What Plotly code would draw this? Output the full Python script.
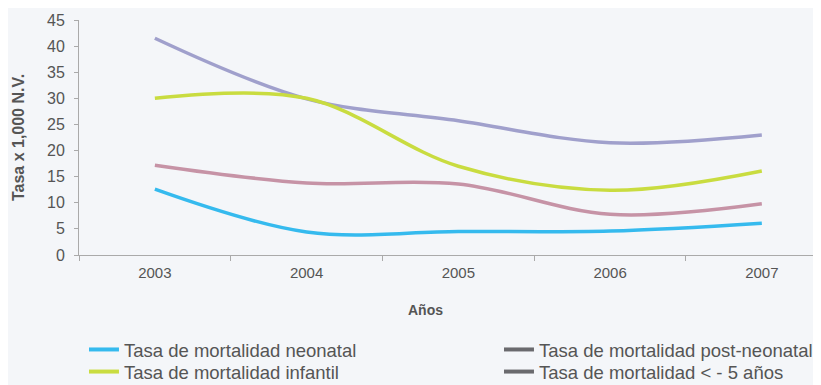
import plotly.graph_objects as go

years = ["2003", "2004", "2005", "2006", "2007"]
neonatal = [12.6, 4.4, 4.5, 4.6, 6.1]
post_neonatal = [17.2, 13.8, 13.6, 7.8, 9.8]
infantil = [30.0, 30.0, 17.0, 12.4, 16.1]
menor5 = [41.5, 29.9, 25.7, 21.5, 23.0]

names = ["Tasa de mortalidad neonatal", "Tasa de mortalidad post-neonatal",
         "Tasa de mortalidad infantil", "Tasa de mortalidad < - 5 años"]
series = [neonatal, post_neonatal, infantil, menor5]
line_colors = ["#35baee", "#c693a6", "#c9dc40", "#a0a0cc"]
legend_colors = ["#35baee", "#6a6a6e", "#c9dc40", "#6a6a6e"]
legend_ids = ["legend", "legend2", "legend3", "legend4"]

fig = go.Figure()
for idx in [3, 2, 1, 0]:
    fig.add_trace(go.Scatter(x=years, y=series[idx], mode="lines",
                             line=dict(color=line_colors[idx], width=3.5, shape="spline", smoothing=1.0),
                             showlegend=False, hoverinfo="skip"))
for idx in range(4):
    fig.add_trace(go.Scatter(x=[None], y=[None], mode="lines", name=names[idx],
                             legend=legend_ids[idx],
                             line=dict(color=legend_colors[idx], width=4)))


def leg(x, y):
    return dict(orientation="v", x=x, y=y, yanchor="middle", xanchor="left",
                itemwidth=30, font=dict(size=18.5, color="#555"),
                bgcolor="rgba(0,0,0,0)", traceorder="normal")


bg = "#f4f6f9"
fig.update_layout(
    width=813, height=377,
    paper_bgcolor=bg, plot_bgcolor=bg,
    margin=dict(l=71, r=0, t=12, b=130, autoexpand=False),
    font=dict(family="Liberation Sans, Arial, sans-serif", color="#555"),
    showlegend=True,
    legend=leg(0.0067, -0.404),
    legend2=leg(0.566, -0.404),
    legend3=leg(0.0067, -0.498),
    legend4=leg(0.566, -0.498),
    xaxis=dict(type="category", range=[-0.5, 4.39], tickson="boundaries",
               ticks="outside", ticklen=5, tickcolor="#aaa", ticklabelstandoff=4,
               showline=True, linecolor="#aaa", linewidth=1, showgrid=False,
               tickfont=dict(size=15, color="#555"), zeroline=False),
    yaxis=dict(range=[0, 45], dtick=5, ticks="outside", ticklen=4, tickcolor="#aaa",
               ticklabelstandoff=6,
               showline=True, linecolor="#aaa", linewidth=1, showgrid=False, zeroline=False,
               tickfont=dict(size=16, color="#555"),
               title=dict(text="<b>Tasa x 1,000 N.V.</b>", font=dict(size=16, color="#555"), standoff=18)),
    annotations=[dict(text="<b>Años</b>", xref="paper", yref="paper",
                      x=(425 - 8 - 71) / 742, y=(247 - (310 - 8)) / 235,
                      xanchor="center", yanchor="middle", showarrow=False,
                      font=dict(size=14, color="#555"))],
)

fig.write_html("out.html")
